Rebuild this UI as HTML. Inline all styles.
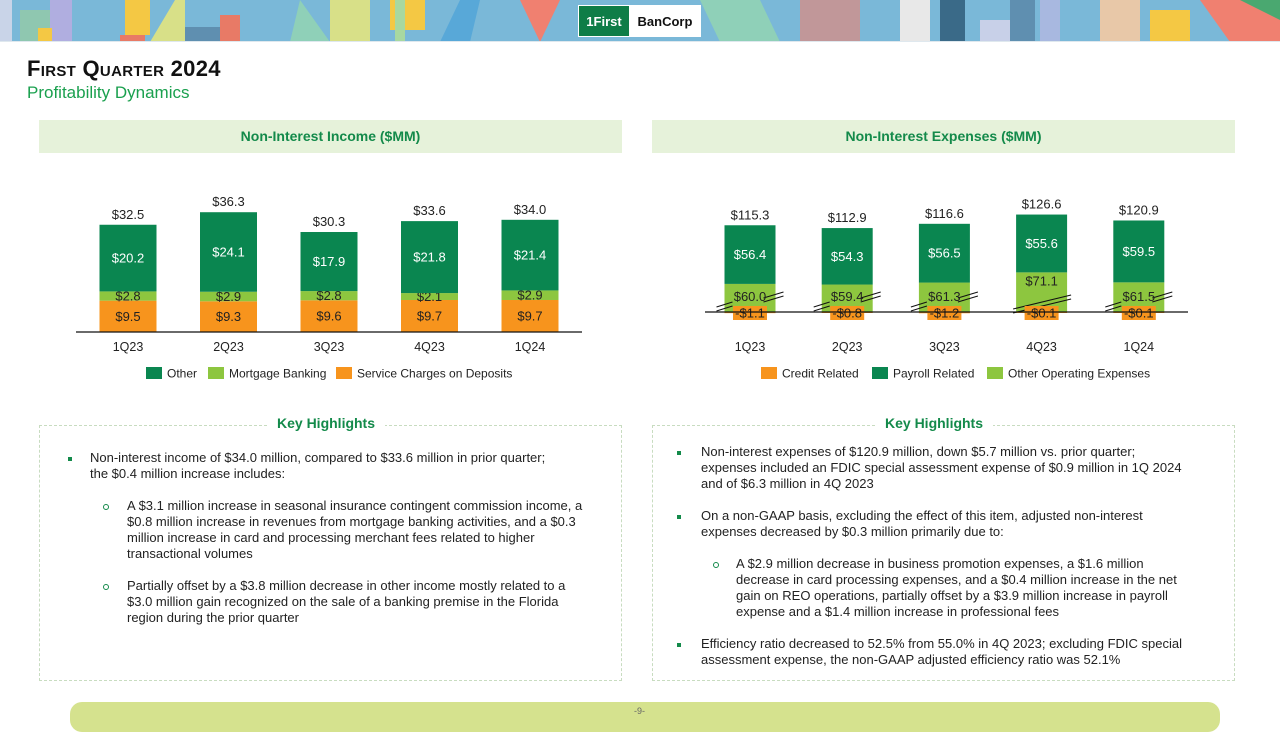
<!DOCTYPE html>
<html><head><meta charset="utf-8"><style>
*{margin:0;padding:0;box-sizing:border-box}
body{width:1280px;height:720px;position:relative;background:#fff;font-family:"Liberation Sans",sans-serif;overflow:hidden;color:#222}
.abs{position:absolute}
.t{position:absolute;font-size:13px;white-space:nowrap;color:#222}
.hdr{position:absolute;top:120px;height:33px;background:#e6f2da;color:#138a4a;font-weight:bold;font-size:14px;text-align:center;line-height:33px}
.box{position:absolute;top:425px;height:256px;border:1px dashed #c8dcc0}
.kh{position:absolute;top:415px;background:#fff;padding:0 10px;color:#138a4a;font-weight:bold;font-size:14px}
.sq{position:absolute;width:4px;height:4px;background:#138a4a}
.ci{position:absolute;width:6px;height:6px;border:1px solid #138a4a;border-radius:50%}
</style></head><body>
<svg class="abs" style="left:0;top:0" width="1280" height="42">
<rect width="1280" height="42" fill="#7ab8d8"/>
<rect x="0" y="0" width="12" height="42" fill="#c9d4e8"/>
<rect x="20" y="10" width="30" height="32" fill="#8fc7b0"/>
<rect x="50" y="0" width="22" height="42" fill="#b0aee0"/>
<rect x="38" y="28" width="14" height="14" fill="#f4c844"/>
<rect x="125" y="0" width="25" height="35" fill="#f4c844"/>
<rect x="120" y="35" width="25" height="7" fill="#e87a66"/>
<polygon points="150,42 175,0 185,0 185,42" fill="#d8e088"/>
<rect x="185" y="27" width="35" height="15" fill="#5f8fb0"/>
<rect x="220" y="15" width="20" height="27" fill="#e87a66"/>
<polygon points="300,0 330,42 290,42" fill="#8fd0b8"/>
<rect x="330" y="0" width="40" height="42" fill="#d8e088"/>
<rect x="390" y="0" width="35" height="30" fill="#f4c844"/>
<polygon points="440,42 460,0 480,0 470,42" fill="#58a8d8"/>
<polygon points="540,42 560,0 520,0" fill="#f08070"/>
<rect x="395" y="0" width="10" height="42" fill="#a8d8a0"/>
<polygon points="700,0 760,0 780,42 720,42" fill="#8fd0b8"/>
<rect x="800" y="0" width="60" height="42" fill="#f08070" opacity=".6"/>
<rect x="900" y="0" width="30" height="42" fill="#e8e8e8"/>
<rect x="940" y="0" width="25" height="42" fill="#3a6a88"/>
<rect x="980" y="20" width="30" height="22" fill="#c8d0e8"/>
<rect x="1010" y="0" width="25" height="42" fill="#5f8fb0"/>
<rect x="1040" y="0" width="20" height="42" fill="#a8b8e0"/>
<rect x="1100" y="0" width="40" height="42" fill="#e8c8a8"/>
<polygon points="1200,0 1280,0 1280,42 1230,42" fill="#f08070"/>
<polygon points="1240,0 1280,0 1280,20" fill="#4aa870"/>
<rect x="1150" y="10" width="40" height="32" fill="#f4c844"/>
<rect x="0" y="41" width="1280" height="1" fill="#dfe8ee"/>
<rect x="578" y="5" width="123" height="32" fill="#fff"/>
<rect x="579" y="6" width="50" height="30" fill="#0e7d47"/>
<text x="604" y="26" font-size="13" font-weight="bold" fill="#fff" text-anchor="middle">1First</text>
<text x="665" y="26" font-size="13" font-weight="bold" fill="#111" text-anchor="middle">BanCorp</text>
</svg>
<div class="abs" style="left:27px;top:56px;font-size:22px;font-weight:bold;color:#111;font-variant:small-caps;letter-spacing:0.3px">First Quarter 2024</div>
<div class="abs" style="left:27px;top:83px;font-size:17px;color:#1aa04e">Profitability Dynamics</div>

<div class="hdr" style="left:39px;width:583px">Non-Interest Income ($MM)</div>
<div class="hdr" style="left:652px;width:583px">Non-Interest Expenses ($MM)</div>

<svg id="c1" class="abs" style="left:0;top:0" width="640" height="400"></svg>
<svg id="c2" class="abs" style="left:640px;top:0" width="640" height="400"></svg>

<div class="box" style="left:39px;width:583px"></div>
<div class="kh" style="left:267px">Key Highlights</div>
<div class="box" style="left:652px;width:583px"></div>
<div class="kh" style="left:875px">Key Highlights</div>

<div>
<div class="sq" style="left:68px;top:457px"></div>
<div class="t" style="left:90px;top:450px">Non-interest income of $34.0 million, compared to $33.6 million in prior quarter;</div>
<div class="t" style="left:90px;top:466px">the $0.4 million increase includes:</div>
<div class="ci" style="left:103px;top:504px"></div>
<div class="t" style="left:127px;top:498px">A $3.1 million increase in seasonal insurance contingent commission income, a</div>
<div class="t" style="left:127px;top:514px">$0.8 million increase in revenues from mortgage banking activities, and a $0.3</div>
<div class="t" style="left:127px;top:530px">million increase in card and processing merchant fees related to higher</div>
<div class="t" style="left:127px;top:546px">transactional volumes</div>
<div class="ci" style="left:103px;top:584px"></div>
<div class="t" style="left:127px;top:578px">Partially offset by a $3.8 million decrease in other income mostly related to a</div>
<div class="t" style="left:127px;top:594px">$3.0 million gain recognized on the sale of a banking premise in the Florida</div>
<div class="t" style="left:127px;top:610px">region during the prior quarter</div>
</div>
<div>
<div class="sq" style="left:677px;top:451px"></div>
<div class="t" style="left:701px;top:444px">Non-interest expenses of $120.9 million, down $5.7 million vs. prior quarter;</div>
<div class="t" style="left:701px;top:460px">expenses included an FDIC special assessment expense of $0.9 million in 1Q 2024</div>
<div class="t" style="left:701px;top:476px">and of $6.3 million in 4Q 2023</div>
<div class="sq" style="left:677px;top:515px"></div>
<div class="t" style="left:701px;top:508px">On a non-GAAP basis, excluding the effect of this item, adjusted non-interest</div>
<div class="t" style="left:701px;top:524px">expenses decreased by $0.3 million primarily due to:</div>
<div class="ci" style="left:713px;top:562px"></div>
<div class="t" style="left:736px;top:556px">A $2.9 million decrease in business promotion expenses, a $1.6 million</div>
<div class="t" style="left:736px;top:572px">decrease in card processing expenses, and a $0.4 million increase in the net</div>
<div class="t" style="left:736px;top:588px">gain on REO operations, partially offset by a $3.9 million increase in payroll</div>
<div class="t" style="left:736px;top:604px">expense and a $1.4 million increase in professional fees</div>
<div class="sq" style="left:677px;top:643px"></div>
<div class="t" style="left:701px;top:636px">Efficiency ratio decreased to 52.5% from 55.0% in 4Q 2023; excluding FDIC special</div>
<div class="t" style="left:701px;top:652px">assessment expense, the non-GAAP adjusted efficiency ratio was 52.1%</div>
</div>

<div class="abs" style="left:70px;top:702px;width:1150px;height:30px;background:#d5e28e;border-radius:12px"></div>
<div class="abs" style="left:634px;top:706px;font-size:9px;color:#666">-9-</div>

<script>
const NS='http://www.w3.org/2000/svg';
const incomeCats=['1Q23','2Q23','3Q23','4Q23','1Q24'];
const incService=[9.5,9.3,9.6,9.7,9.7];
const incMortgage=[2.8,2.9,2.8,2.1,2.9];
const incOther=[20.2,24.1,17.9,21.8,21.4];
const incTotal=[32.5,36.3,30.3,33.6,34.0];
const expCats=['1Q23','2Q23','3Q23','4Q23','1Q24'];
const expCredit=[-1.1,-0.8,-1.2,-0.1,-0.1];
const expOther=[60.0,59.4,61.3,71.1,61.5];
const expPayroll=[56.4,54.3,56.5,55.6,59.5];
const expTotal=[115.3,112.9,116.6,126.6,120.9];

const DG='#0a8650',LG='#8dc63f',OR='#f7941d';
function mk(svg,tag,attrs,txt){const e=document.createElementNS(NS,tag);for(const k in attrs)e.setAttribute(k,attrs[k]);if(txt!==undefined)e.textContent=txt;svg.appendChild(e);return e;}
function money(v){return (v<0?'-$':'$')+Math.abs(v).toFixed(1);}

// Chart 1
const s1=document.getElementById('c1');
const b1=332,k1=3.3,x1=i=>128+i*100.5,w1=57;
const y1=v=>b1-v*k1;
incomeCats.forEach((c,i)=>{
  const cx=x1(i);let base=0;
  [[incService,OR,'#222','svc'],[incMortgage,LG,'#222','mortgage'],[incOther,DG,'#fff','other']].forEach(([arr,col,tc,nm])=>{
    const v=arr[i];
    const r=mk(s1,'rect',{x:cx-w1/2,y:y1(base+v),width:w1,height:v*k1,fill:col});
    
    
    const t=mk(s1,'text',{x:cx,y:(y1(base)+y1(base+v))/2+4.5,'font-size':13,fill:tc,'text-anchor':'middle'},money(v));
    
    
    base+=v;
  });
  const tt=mk(s1,'text',{x:cx,y:y1(incTotal[i])-6,'font-size':13,fill:'#222','text-anchor':'middle'},money(incTotal[i]));
  
  
  const xl=mk(s1,'text',{x:cx,y:351,'font-size':12.5,fill:'#222','text-anchor':'middle'},c);
  
  
});
const ax1=mk(s1,'line',{x1:76,x2:582,y1:b1,y2:b1,stroke:'#111','stroke-width':1.2});


function legend(svg,items,x0,y){let x=x0;items.forEach(([lab,col,w])=>{const g=mk(svg,'g',{});mk(g,'rect',{x:x,y:y-6,width:16,height:12,fill:col});mk(g,'text',{x:x+21,y:y+4.5,'font-size':12,fill:'#222'},lab);x+=w;});}
legend(s1,[['Other',DG,62],['Mortgage Banking',LG,128],['Service Charges on Deposits',OR,0]],146,373);

// Chart 2 (broken axis for other operating expenses)
const s2=document.getElementById('c2');
const b2=312,k2=1.04,off=33,x2=i=>110+i*97.2,w2=51;
expCats.forEach((c,i)=>{
  const cx=x2(i);
  const hO=(expOther[i]-off)*k2, hP=expPayroll[i]*k2;
  const r1=mk(s2,'rect',{x:cx-w2/2,y:b2-hO,width:w2,height:hO,fill:LG});
  
  
  const r2=mk(s2,'rect',{x:cx-w2/2,y:b2-hO-hP,width:w2,height:hP,fill:DG});
  
  
  const r3=mk(s2,'rect',{x:cx-w2/2,y:b2,width:w2,height:Math.max(1,-expCredit[i]*k2),fill:OR});
  
  
  const g=mk(s2,'g',{stroke:'#111','stroke-width':1,fill:'none'});
  
  
  const by=b2-9;
  if(i===3){
    mk(g,'line',{x1:cx-w2/2-3,y1:by+6,x2:cx+w2/2+4,y2:by-8});
    mk(g,'line',{x1:cx-w2/2-3,y1:by+10,x2:cx+w2/2+4,y2:by-4});
  }else{
    mk(g,'line',{x1:cx-w2/2-8,y1:by+4,x2:cx-w2/2+8,y2:by-1});
    mk(g,'line',{x1:cx-w2/2-8,y1:by+8,x2:cx-w2/2+8,y2:by+3});
    mk(g,'line',{x1:cx+w2/2-12,y1:by-5,x2:cx+w2/2+8,y2:by-11});
    mk(g,'line',{x1:cx+w2/2-12,y1:by-1,x2:cx+w2/2+8,y2:by-7});
  }
  const tl=mk(s2,'text',{x:cx,y:i===3?b2-hO+13:b2-11,'font-size':13,fill:'#222','text-anchor':'middle'},money(expOther[i]));
  
  
  const tp=mk(s2,'text',{x:cx,y:b2-hO-hP/2+4.5,'font-size':13,fill:'#fff','text-anchor':'middle'},money(expPayroll[i]));
  
  
  const cb=mk(s2,'rect',{x:cx-17,y:b2-6,width:34,height:14,fill:OR});
  
  
  const tc=mk(s2,'text',{x:cx,y:b2+5.5,'font-size':13,fill:'#222','text-anchor':'middle'},money(expCredit[i]));
  
  
  const tt=mk(s2,'text',{x:cx,y:b2-hO-hP-6,'font-size':13,fill:'#222','text-anchor':'middle'},money(expTotal[i]));
  
  
  const xl=mk(s2,'text',{x:cx,y:351,'font-size':12.5,fill:'#222','text-anchor':'middle'},c);
  
  
});
const ax2=mk(s2,'line',{x1:65,x2:548,y1:b2,y2:b2,stroke:'#111','stroke-width':1.2});


legend(s2,[['Credit Related',OR,111],['Payroll Related',DG,115],['Other Operating Expenses',LG,0]],121,373);
</script>
</body></html>
